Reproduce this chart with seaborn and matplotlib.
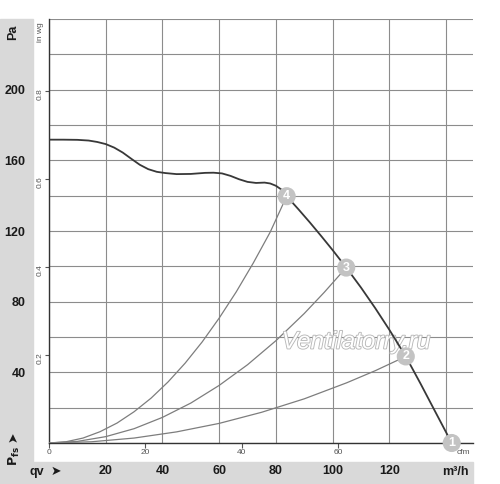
import matplotlib
matplotlib.use("Agg")
import matplotlib.pyplot as plt
import matplotlib.patheffects as pe
from matplotlib.patches import Rectangle
import seaborn as sns

# fan curve: air flow qv (m3/h) -> static pressure (Pa)
fan_q = [0, 5, 10, 14, 17, 20, 23, 26, 29, 32, 35, 38, 41, 45, 50, 55, 58, 61,
         64, 67, 70, 73, 76, 78, 80, 82, 83.8, 88, 92, 96, 100, 104.8, 110,
         115, 120, 125.8, 131, 136, 142]
fan_p = [171.7, 171.7, 171.6, 171.2, 170.4, 169.2, 167.2, 164.4, 160.9, 157.5,
         155.0, 153.5, 152.8, 152.2, 152.3, 152.9, 153.0, 152.6, 151.2, 149.3,
         147.8, 147.2, 147.4, 146.9, 145.6, 143.4, 139.7, 132.2, 124.8, 117.1,
         109.2, 99.3, 88.0, 76.4, 64.1, 49.0, 33.6, 18.3, 0.0]

# system resistance curves ending at the operating points 4, 3, 2
sys4_q = [0, 6, 12, 18, 24, 30, 36, 42, 48, 54, 60, 66, 72, 78, 83.8]
sys4_p = [0, 0.7, 2.8, 6.4, 11.3, 17.7, 25.4, 34.6, 45.2, 57.2, 70.7, 85.5,
          101.8, 119.4, 139.7]
sys3_q = [0, 10, 20, 30, 40, 50, 60, 70, 80, 90, 97, 104.8]
sys3_p = [0, 0.9, 3.6, 8.1, 14.5, 22.6, 32.6, 44.3, 57.9, 73.3, 85.2, 99.3]
sys2_q = [0, 15, 30, 45, 60, 75, 90, 105, 115, 125.8]
sys2_p = [0, 0.7, 2.8, 6.3, 11.1, 17.4, 25.0, 34.1, 40.9, 49.0]

# numbered operating points
point_q = [142, 125.8, 104.8, 83.8]
point_p = [0.0, 49.0, 99.3, 139.7]
point_no = ["1", "2", "3", "4"]

qv_ticks = [0, 20, 40, 60, 80, 100, 120, 140]
qv_labels = ["", "20", "40", "60", "80", "100", "120", ""]
pa_ticks = [0, 20, 40, 60, 80, 100, 120, 140, 160, 180, 200, 220, 240]
pa_labels = ["", "", "40", "", "80", "", "120", "", "160", "", "200", "", ""]
cfm_ticks = [0, 20, 40, 60]
inwg_ticks = [0.2, 0.4, 0.6, 0.8]

sns.set_style("white")
plt.rcParams["font.family"] = ["Liberation Sans", "DejaVu Sans"]

W, H = 500, 484
fig = plt.figure(figsize=(W / 100, H / 100), dpi=100)
ax = fig.add_axes([49 / W, 41 / H, 424 / W, 424 / H])

band = "#d9d9d9"
fig.patches.append(Rectangle((0, 0), 33 / W, 465 / H, transform=fig.transFigure,
                             color=band, zorder=-1))
fig.patches.append(Rectangle((0, 0), 473 / W, 22 / H, transform=fig.transFigure,
                             color=band, zorder=-1))

for q, p in [(sys4_q, sys4_p), (sys3_q, sys3_p), (sys2_q, sys2_p)]:
    sns.lineplot(x=q, y=p, ax=ax, color="#7d7d7d", lw=0.9, estimator=None,
                 sort=False, zorder=3)
sns.lineplot(x=fan_q, y=fan_p, ax=ax, color="#383838", lw=1.3, estimator=None,
             sort=False, zorder=4)

sns.scatterplot(x=point_q, y=point_p, ax=ax, s=170, color="#c3c3c3",
                edgecolor="none", zorder=5, clip_on=False)
for q, p, n in zip(point_q, point_p, point_no):
    ax.text(q, p, n, ha="center", va="center", color="white", fontsize=9,
            fontweight="bold", zorder=6, clip_on=False)

ax.set_xlim(0, 149.5)
ax.set_ylim(0, 240)
ax.grid(True, color="#8c8c8c", lw=0.8)
ax.set_axisbelow(True)
for s in ["top", "right"]:
    ax.spines[s].set_visible(False)
for s in ["left", "bottom"]:
    ax.spines[s].set_color("#333333")
    ax.spines[s].set_linewidth(1.0)

ax.set_xticks(qv_ticks, qv_labels, fontsize=9, fontweight="bold")
ax.set_yticks(pa_ticks, pa_labels, fontsize=9, fontweight="bold")
ax.tick_params(axis="x", length=0, pad=16, colors="#1a1a1a")
ax.tick_params(axis="y", length=0, pad=17, colors="#1a1a1a")

# secondary scales: cfm along the bottom, in wg along the left
cfm = ax.secondary_xaxis(0, functions=(lambda q: q / 1.699, lambda c: c * 1.699))
cfm.set_ticks(cfm_ticks)
cfm.tick_params(length=3.5, width=0.8, color="#555555", labelsize=6,
                labelcolor="#555555", pad=1)
cfm.spines["bottom"].set_visible(False)

wg = ax.secondary_yaxis(0, functions=(lambda p: p / 249.09, lambda w: w * 249.09))
wg.set_ticks(inwg_ticks)
wg.tick_params(length=3, width=0.8, color="#555555", labelsize=6,
               labelcolor="#555555", pad=1, labelrotation=90)
wg.spines["left"].set_visible(False)

ax.text(-9 / 424, (443 - 32) / 424, "in wg", transform=ax.transAxes, rotation=90,
        ha="center", va="center", fontsize=6, color="#555555")
ax.text((463 - 49) / 424, -(452 - 443) / 424, "cfm", transform=ax.transAxes,
        ha="center", va="center", fontsize=6, color="#555555")

ax.text((356 - 49) / 424, (443 - 342) / 424, "Ventilatorry.ru",
        transform=ax.transAxes, fontsize=17.5, style="italic", color="white",
        ha="center", va="center", zorder=3.5,
        path_effects=[pe.withStroke(linewidth=1.3, foreground="#b8b8b8")])

# band captions
def fx(px):
    return px / W


def fy(py):
    return 1 - py / H


bold = dict(fontweight="bold", color="#1a1a1a", ha="center", va="center")
fig.text(fx(13), fy(32), "Pa", rotation=90, fontsize=9, **bold)
fig.text(fx(14), fy(456), r"$\mathbf{P_{fs}}$", rotation=90, fontsize=9, **bold)
fig.text(fx(14), fy(437), "➤", rotation=90, fontsize=9, **bold)
fig.text(fx(37), fy(472), "qv", fontsize=9, **bold)
fig.text(fx(56), fy(472), "➤", fontsize=9, **bold)
fig.text(fx(455), fy(472), "m³/h", fontsize=9, **bold)

fig.savefig("out.png", dpi=100)
